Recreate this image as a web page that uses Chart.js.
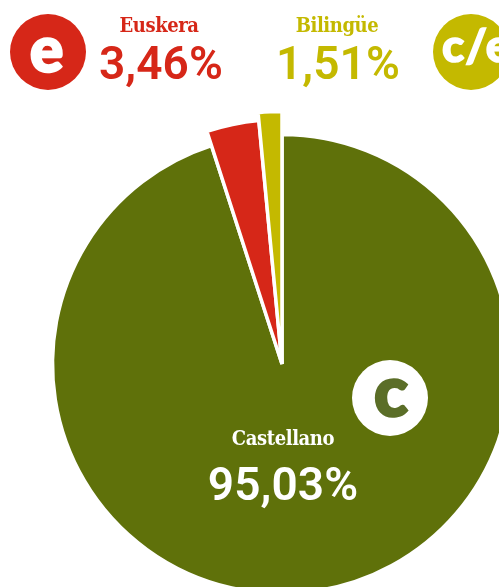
<!DOCTYPE html>
<html><head><meta charset="utf-8">
<script src="https://cdn.jsdelivr.net/npm/chart.js@4"></script>
<style>
html,body{margin:0;padding:0;background:#fff;overflow:hidden}
#wrap{position:relative;width:499px;height:587px;overflow:hidden}
#cv{position:absolute;left:0;top:0}
.t{position:absolute;white-space:nowrap;transform:translateX(-50%);line-height:1}
.name{font-family:"DejaVu Serif Condensed","DejaVu Serif";font-weight:700;font-size:20px;letter-spacing:-.4px}
.val{font-family:Roboto;font-weight:600;font-size:46px;letter-spacing:.1px}
.ic{position:absolute;width:76px;height:76px;border-radius:50%;overflow:hidden;font-family:Lato;font-weight:900;line-height:1}
.ic span{position:absolute;display:block;white-space:nowrap;paint-order:stroke fill}
</style></head><body>
<div id="wrap">
<div id="box" style="position:absolute;left:0;top:0;width:564px;height:728px"><canvas id="cv"></canvas></div>
<div class="ic" style="left:10px;top:14px;background:#d62718;color:#fff"><span style="left:20px;top:3px;font-size:62px;-webkit-text-stroke:2.5px #fff">e</span></div>
<div class="ic" style="left:433px;top:14px;background:#c4b900;color:#fff"><span style="left:9px;top:8px;font-size:46px;letter-spacing:1px;-webkit-text-stroke:1.5px #fff">c/e</span></div>
<div class="ic" style="left:352px;top:360px;background:#fff;color:#5b6e28"><span style="left:22px;top:-6px;font-size:70px;-webkit-text-stroke:2.5px #5b6e28">c</span></div>
<div class="t name" id="n1" style="left:159px;top:15px;color:#d62718"></div>
<div class="t val" id="v1" style="left:161px;top:40px;color:#d62718"></div>
<div class="t name" id="n2" style="left:337px;top:15px;color:#c4b900"></div>
<div class="t val" id="v2" style="left:338px;top:40px;color:#c4b900"></div>
<div class="t name" id="n0" style="left:283px;top:428px;color:#fff"></div>
<div class="t val" id="v0" style="left:283px;top:461px;color:#fff"></div>
</div>
<script>
const categories = ["Castellano", "Euskera", "Bilingüe"];
const shares = [95.03, 3.46, 1.51];
const sliceColors = ["#5f710a", "#d62718", "#c4b900"];
const sliceRadii = [229.5, 244.5, 252.5];

categories.forEach((c, i) => {
  document.getElementById("n" + i).textContent = c;
  document.getElementById("v" + i).textContent = shares[i].toFixed(2).replace(".", ",") + "%";
});

const stepped = {
  id: "stepped",
  afterDatasetsUpdate(chart) {
    chart.getDatasetMeta(0).data.forEach((arc, i) => { arc.outerRadius = sliceRadii[i]; });
  }
};

new Chart(document.getElementById("cv"), {
  type: "pie",
  data: { labels: categories, datasets: [{ data: shares, backgroundColor: sliceColors, borderColor: "#fff", borderWidth: 3.5 }] },
  options: {
    responsive: true, maintainAspectRatio: false, animation: false,
    radius: 229.5,
    layout: { padding: 0 },
    plugins: { legend: { display: false }, tooltip: { enabled: false } }
  },
  plugins: [stepped]
});
</script>
</body></html>
